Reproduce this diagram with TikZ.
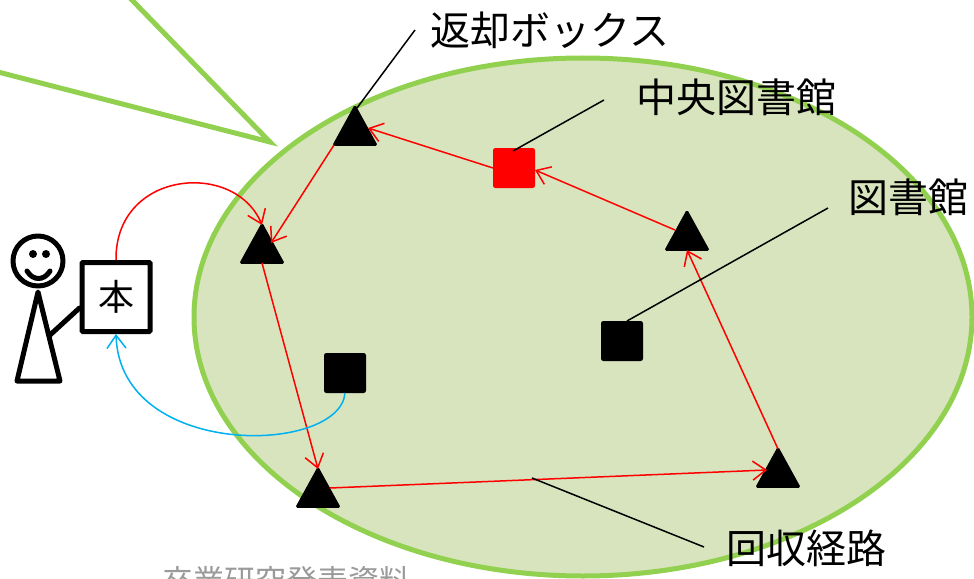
\documentclass[tikz,border=0pt]{standalone}
\usepackage{fontspec}
\newfontfamily\jp{Noto Sans CJK JP}
\usetikzlibrary{arrows.meta,shapes.geometric,calc}
\definecolor{leaf}{HTML}{92D050}
\definecolor{leaffill}{HTML}{D7E4BD}
\definecolor{route}{HTML}{FF0000}
\definecolor{sky}{HTML}{00B0F0}
\definecolor{faint}{HTML}{9A9A9A}
\begin{document}
\begin{tikzpicture}[x=1pt,y=-1pt,
  boxstop/.style={regular polygon, regular polygon sides=3, fill=black, draw=black,
    line width=1pt, rounded corners=1.5pt, minimum size=51pt, inner sep=0pt, yscale=1.05},
  libsq/.style={rectangle, fill=#1, draw=#1, line width=1pt, rounded corners=2pt,
    minimum width=41pt, minimum height=39pt, inner sep=0pt},
  libsq/.default=black,
  label/.style={font=\jp\fontsize{40}{48}\selectfont, inner sep=0pt},
  tip/.style={-{Straight Barb[length=13pt,width=19pt]}},
  routeline/.style={route, line width=1.5pt, tip},
  leader/.style={black, line width=1.5pt},
  stick/.style={black, line width=5pt, line join=round, line cap=round},
  callout/.style={leaf, line width=5pt, line cap=round}
]
\useasboundingbox (0,0) rectangle (974,578);
\clip (0,0) rectangle (974,578);

% speech-bubble wedge
\coordinate (wedge) at (270,142);
\coordinate (wedgeA) at (130,-2);
\coordinate (wedgeB) at (-2,72);
\draw[callout] (wedgeA) -- (wedge) -- (wedgeB);

% service area
\draw[leaf, fill=leaffill, line width=5pt] (583,317) ellipse [x radius=389, y radius=259];

% return boxes
\node[boxstop] (T1) at (355,132) {};
\node[boxstop] (T2) at (262,250) {};
\node[boxstop] (T3) at (687,237) {};
\node[boxstop] (T4) at (318,494) {};
\node[boxstop] (T5) at (778,474) {};

% libraries
\node[libsq=route] (central) at (514,168) {};
\node[libsq] (libR) at (622,341) {};
\node[libsq] (libL) at (345,373) {};

% collection route
\draw[routeline] (central.west) -- ($(T1)+(13,-4)$);
\draw[routeline] ($(T3)+(-12,-7)$) -- ($(central.east)+(0,2)$);
\draw[routeline] ($(T1)+(-21,13)$) -- ($(T2)+(9,-7)$);
\draw[routeline] ($(T2)+(0,13)$) -- ($(T4)+(0,-25)$);
\draw[routeline] ($(T4)+(12,-6)$) -- ($(T5)+(-11,-4)$);
\draw[routeline] ($(T5)+(0,-25)$) -- ($(T3)+(0,13)$);

% person with a book
\draw[stick] (38,261) circle [radius=25];
\fill (33,254) circle [radius=4];
\fill (46,254) circle [radius=4];
\draw[stick] (27,271) .. controls (33,281) and (44,281) .. (50,271);
\draw[stick] (38,292) -- (60,381) -- (17,381) -- cycle;
\node[draw=black, line width=5pt, rounded corners=1pt, minimum width=68pt, minimum height=69pt,
  inner sep=0pt, font=\jp\fontsize{36}{40}\selectfont] (book) at (116,297) {本};
\coordinate (hand) at (50,335);
\draw[stick] (hand) -- (book.west |- 0,308);

% returning and borrowing
\draw[routeline] (book.north) .. controls (115,170) and (235,160) .. ($(T2)+(0,-25)$);
\draw[sky, line width=1.5pt, tip] (libL.south) .. controls (340,455) and (120,460) .. (book.south);

% labels
\node[label] (lblBox) at (550,30) {返却ボックス};
\node[label] (lblCentral) at (736,97) {中央図書館};
\node[label] (lblLib) at (908,197) {図書館};
\node[label] (lblRoute) at (806,548) {回収経路};

\coordinate (cBox) at (415,30);
\coordinate (cCentral) at (604,100);
\coordinate (cLib) at (828,208);
\coordinate (cRouteA) at (532,478);
\coordinate (cRouteB) at (704,547);
\draw[leader] (cBox) -- ($(T1)+(2,-24)$);
\draw[leader] (cCentral) -- ($(central)+(-1,-17)$);
\draw[leader] (cLib) -- ($(libR)+(5,-20)$);
\draw[leader] (cRouteA) -- (cRouteB);

% footer
\node[anchor=base, inner sep=0pt, text=faint, font=\jp\fontsize{31}{36}\selectfont] (footer) at (286,592) {卒業研究発表資料};
\end{tikzpicture}
\end{document}
